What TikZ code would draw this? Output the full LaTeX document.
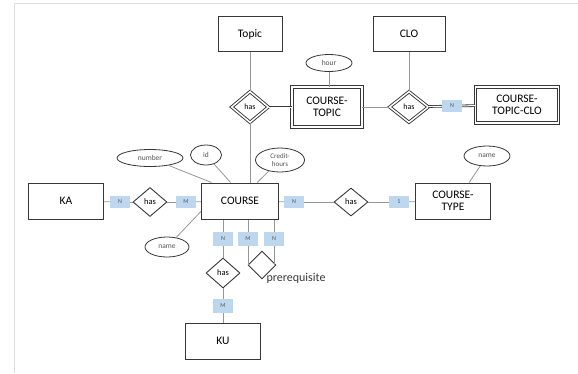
\documentclass[tikz,border=0pt]{standalone}
\usepackage{fontspec}
\setmainfont{Carlito}
\definecolor{frameline}{RGB}{222, 222, 222}
\definecolor{edgeline}{RGB}{150, 150, 150}
\definecolor{boxline}{RGB}{55, 55, 55}
\definecolor{cardfill}{RGB}{189, 215, 238}
\definecolor{labeltext}{RGB}{85, 85, 85}
\usetikzlibrary{shapes.geometric, positioning, calc}
\tikzset{
    entity/.style={rectangle, draw=boxline, line width=1pt, fill=white, minimum width=75pt, minimum height=36pt, inner sep=0pt, align=center, font=\fontsize{11.5}{12.5}\selectfont},
    weakentity/.style={entity, double=white, double distance=1.6pt, line width=0.9pt},
    relation/.style={diamond, draw=boxline, line width=0.9pt, fill=white, minimum width=34pt, minimum height=29pt, inner sep=0pt, font=\fontsize{8.5}{9.5}\selectfont},
    weakrelation/.style={relation, double=white, double distance=1.5pt, line width=0.9pt, font=\fontsize{8}{9}\selectfont},
    attribute/.style={ellipse, draw=boxline, line width=0.8pt, fill=white, inner sep=0pt, align=center, text=labeltext, font=\fontsize{7.5}{8}\selectfont},
    card/.style={rectangle, fill=cardfill, minimum width=20pt, minimum height=12pt, inner sep=0pt, text=labeltext, font=\fontsize{6}{6.5}\selectfont},
    link/.style={draw=edgeline, line width=0.8pt},
    dlink/.style={draw=boxline, line width=0.8pt, double=white, double distance=1pt}
}
\begin{document}
\begin{tikzpicture}[x=1pt, y=-1pt]
    \useasboundingbox (0,0) rectangle (578,373);
    % page edge
    \draw[frameline, line width=0.8pt] (14,373) -- (14,3.5) -- (578,3.5);

    % Entities
    \node[entity, minimum width=64pt, minimum height=35pt] (topic) at (250, 34) {Topic};
    \node[entity, minimum width=72pt, minimum height=35pt] (clo) at (409, 34) {CLO};
    \node[entity, minimum width=77pt] (course) at (240, 201) {COURSE};
    \node[entity] (ka) at (66, 201) {KA};
    \node[entity] (ctype) at (453, 201) {COURSE-\\TYPE};
    \node[entity] (ku) at (223, 341) {KU};

    % Weak entities
    \node[weakentity, minimum width=70pt, minimum height=40pt] (ctopic) at (327, 107) {COURSE-\\TOPIC};
    \node[weakentity, minimum width=83pt, minimum height=36pt] (ctclo) at (517, 105) {COURSE-\\TOPIC-CLO};

    % Relationships
    \node[weakrelation, minimum width=37pt, minimum height=31pt] (hastopic) at (250, 107) {has};
    \node[weakrelation, minimum width=39pt, minimum height=31pt] (hasclo) at (409, 107) {has};
    \node[relation] (haska) at (150, 202) {has};
    \node[relation, minimum height=28pt] (hastype) at (351, 202) {has};
    \node[relation, minimum height=30pt] (hasku) at (223, 273) {has};
    \node[relation, minimum width=28pt, minimum height=28pt] (prereq) at (262, 265) {};
    \node[font=\fontsize{12}{13}\selectfont, text=boxline, inner sep=0pt] (prereqlbl) at (296, 278) {prerequisite};

    % Attributes
    \node[attribute, minimum width=46pt, minimum height=17pt] (hour) at (329, 63) {hour};
    \node[attribute, minimum width=66pt, minimum height=17pt] (number) at (150, 158) {number};
    \node[attribute, minimum width=31pt, minimum height=20pt] (id) at (206, 155) {id};
    \node[attribute, minimum width=49pt, minimum height=24pt, font=\fontsize{7}{8}\selectfont] (credit) at (280, 160) {Credit-\\hours};
    \node[attribute, minimum width=44pt, minimum height=20pt] (cname) at (167, 247) {name};
    \node[attribute, minimum width=46pt, minimum height=20pt] (tname) at (487, 156) {name};

    % Cardinalities
    \node[card] (cnka) at (120, 202) {N};
    \node[card] (cmka) at (186, 202) {M};
    \node[card] (cntype) at (294, 202) {N};
    \node[card] (c1type) at (399, 202) {1};
    \node[card, minimum height=14pt] (cnku) at (223, 239) {N};
    \node[card, minimum height=14pt] (cmpre) at (248, 239) {M};
    \node[card, minimum height=14pt] (cnpre) at (274, 239) {N};
    \node[card, minimum height=14pt] (cmku) at (223, 306) {M};
    \node[card] (cnclo) at (452, 106) {N};

    % Links
    \draw[link] (topic) -- (hastopic);
    \draw[link] (clo) -- (hasclo);
    \draw[link] (hour) -- (hour |- ctopic.north);
    \draw[link] (hastopic) -- (hastopic.south |- course.north);
    \draw[dlink] (hastopic) -- (ctopic);
    \draw[link] (ctopic) -- (hasclo);
    \draw[dlink] (hasclo) -- (cnclo);
    \draw[dlink] (cnclo) -- (ctclo);

    \draw[link] (ka) -- (cnka);
    \draw[link] (cnka) -- (haska);
    \draw[link] (haska) -- (cmka);
    \draw[link] (cmka) -- (course);
    \draw[link] (course) -- (cntype);
    \draw[link] (cntype) -- (hastype);
    \draw[link] (hastype) -- (c1type);
    \draw[link] (c1type) -- (ctype);

    \draw[link] (number) -- (course.147);
    \draw[link] (id) -- (course.117);
    \draw[link] (credit) -- (course.47);
    \draw[link] (cname) -- (course.195);
    \draw[link] (tname) -- (ctype.49);

    \draw[link] (course.south -| cnku) -- (cnku);
    \draw[link] (course.south -| cmpre) -- (cmpre);
    \draw[link] (course.south -| cnpre) -- (cnpre);
    \draw[link] (cnku) -- (hasku);
    \draw[link] (hasku) -- (cmku);
    \draw[link] (cmku) -- (ku);
    \draw[link] (cmpre) -- (cmpre |- prereq.west);
    \draw[link] (cnpre) -- (cnpre |- prereq.east);
\end{tikzpicture}
\end{document}
